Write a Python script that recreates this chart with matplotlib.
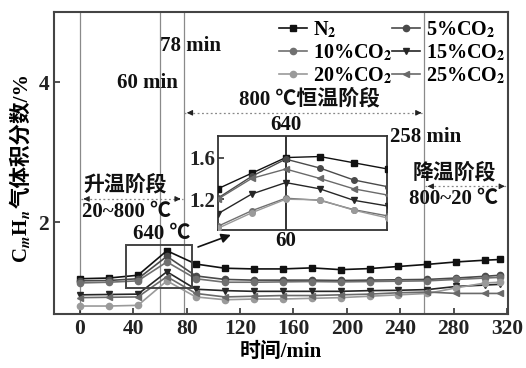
import matplotlib
matplotlib.use("Agg")
import matplotlib.pyplot as plt
from matplotlib.patches import Rectangle

plt.rcParams['font.family'] = ['Liberation Serif', 'Noto Sans CJK SC', 'DejaVu Sans']
plt.rcParams['font.weight'] = 'bold'
plt.rcParams['mathtext.fontset'] = 'stix'

# ---------------- data ----------------
time_min = [0, 21.7, 43.4, 65.1, 86.8, 108.5, 130.2, 151.9, 173.6, 195.3,
            217.0, 238.7, 260.4, 282.1, 303.8, 315.0]
n2    = [1.19, 1.20, 1.24, 1.59, 1.40, 1.34, 1.33, 1.33, 1.345, 1.32, 1.335, 1.365, 1.395, 1.43, 1.455, 1.465]
co2_5 = [1.16, 1.165, 1.19, 1.51, 1.23, 1.18, 1.17, 1.17, 1.17, 1.165, 1.17, 1.175, 1.18, 1.20, 1.225, 1.24]
co2_10 = [1.13, 1.14, 1.16, 1.43, 1.19, 1.14, 1.14, 1.145, 1.15, 1.145, 1.15, 1.155, 1.16, 1.18, 1.20, 1.21]
co2_15 = [0.96, 0.965, 0.97, 1.29, 1.04, 1.02, 1.01, 1.01, 1.01, 1.01, 1.02, 1.025, 1.035, 1.08, 1.10, 1.11]
co2_20 = [0.80, 0.80, 0.81, 1.16, 0.93, 0.89, 0.90, 0.90, 0.91, 0.92, 0.94, 0.96, 0.98, 1.06, 1.13, 1.14]
co2_25 = [0.92, 0.925, 0.93, 1.22, 0.98, 0.93, 0.94, 0.95, 0.95, 0.96, 0.97, 0.99, 1.00, 0.98, 0.98, 0.98]

# inset (zoomed view) values
inset_time = [21.7, 43.4, 65.1, 86.8, 108.5, 130.2]
inset_n2 = [1.30, 1.45, 1.60, 1.61, 1.55, 1.49]
inset_5 = [1.21, 1.42, 1.585, 1.50, 1.385, 1.32]
inset_10 = [0.94, 1.09, 1.21, 1.19, 1.10, 1.04]
inset_15 = [1.06, 1.25, 1.36, 1.30, 1.19, 1.135]
inset_20 = [0.92, 1.07, 1.20, 1.195, 1.095, 1.02]
inset_25 = [1.20, 1.40, 1.49, 1.40, 1.30, 1.24]

labels = ['N$_2$', '5%CO$_2$', '10%CO$_2$', '15%CO$_2$', '20%CO$_2$', '25%CO$_2$']
x_ticks = [0, 40, 80, 120, 160, 200, 240, 280, 320]
y_ticks = [2, 4]
event_times = [0, 60, 78, 258]

# ---------------- style ----------------
colors = ['#111111', '#4a4a4a', '#707070', '#262626', '#9a9a9a', '#6a6a6a']
markers = ['s', 'o', 'o', 'v', 'o', '<']
series = [n2, co2_5, co2_10, co2_15, co2_20, co2_25]
inset_series = [inset_n2, inset_5, inset_10, inset_15, inset_20, inset_25]

fig = plt.figure(figsize=(5.26, 3.68), dpi=100)
ax = fig.add_axes([0.1027, 0.1467, 0.8631, 0.8207])

for t in event_times:
    ax.axvline(t, color='#8a8a8a', lw=0.9, zorder=1)

handles = []
for ys, c, m, lab in zip(series, colors, markers, labels):
    h, = ax.plot(time_min, ys, color=c, marker=m, ms=4.5, lw=1.2, label=lab, zorder=3)
    handles.append(h)

ax.set_xlim(-19.5, 320.8)
ax.set_ylim(0.686, 5.0)
ax.set_xticks(x_ticks)
ax.set_yticks(y_ticks)
ax.tick_params(direction='in', length=4, width=1.1, labelsize=15.5, colors='#222222')
for lab in ax.get_xticklabels() + ax.get_yticklabels():
    lab.set_fontweight('bold')
for s in ax.spines.values():
    s.set_linewidth(1.5)
    s.set_color('#444444')

ax.set_xlabel('时间/min', fontsize=15, fontweight='bold', labelpad=2)

# y label: mathtext part + CJK part placed consecutively
fig.canvas.draw()
renderer = fig.canvas.get_renderer()
ylab_x = 27 / 526
ylab_y0 = 1 - 263 / 368
t1 = fig.text(ylab_x, ylab_y0, 'C$_m$H$_n$', rotation=90, rotation_mode='anchor',
              ha='left', va='baseline', fontsize=15, fontweight='bold')
bb = t1.get_window_extent(renderer=renderer)
h1 = bb.height / fig.bbox.height
fig.text(ylab_x, ylab_y0 + h1 + 0.003, '气体积分数/%', rotation=90, rotation_mode='anchor',
         ha='left', va='baseline', fontsize=15.5, fontweight='bold')

# legend (row order N2,5 / 10,15 / 20,25)
order = [0, 2, 4, 1, 3, 5]
ax.legend([handles[i] for i in order], [labels[i] for i in order], ncol=2,
          loc='upper right', bbox_to_anchor=(1.022, 1.015), frameon=False,
          handlelength=1.4, handletextpad=0.3, columnspacing=0.0,
          labelspacing=0.12, borderaxespad=0.2, prop={'weight': 'bold', 'size': 14.5})

# zoom box and arrow
ax.add_patch(Rectangle((34.5, 1.053), 49.2, 0.623, fill=False, ec='#444444', lw=1.4, zorder=4))
ax.annotate('', xy=(115, 1.83), xytext=(86.5, 1.63),
            arrowprops=dict(arrowstyle='-|>', color='#111111', lw=1.2, mutation_scale=14))

# text annotations
tk = dict(fontsize=15, fontweight='bold', color='#111111')
ax.text(60, 4.51, '78 min', ha='left', va='center', **tk)
ax.text(50.5, 3.99, '60 min', ha='center', va='center', **tk)
ax.text(172, 3.76, '800 ℃恒温阶段', ha='center', va='center', **tk)
ax.text(232.5, 3.22, '258 min', ha='left', va='center', **tk)
ax.text(280.5, 2.70, '降温阶段', ha='center', va='center', **tk)
ax.text(280, 2.33, '800~20 ℃', ha='center', va='center', **tk)
ax.text(34, 2.53, '升温阶段', ha='center', va='center', **tk)
ax.text(35, 2.14, '20~800 ℃', ha='center', va='center', **tk)
ax.text(61, 1.83, '640 ℃', ha='center', va='center', **tk)

def dotted_arrow(x0, x1, y):
    ax.plot([x0, x1], [y, y], ls=(0, (1.5, 2)), color='#888888', lw=0.9, zorder=2)
    ax.annotate('', xy=(x0, y), xytext=(x0 + 6, y),
                arrowprops=dict(arrowstyle='-|>', color='#222222', lw=0.8, mutation_scale=8))
    ax.annotate('', xy=(x1, y), xytext=(x1 - 6, y),
                arrowprops=dict(arrowstyle='-|>', color='#222222', lw=0.8, mutation_scale=8))

dotted_arrow(78, 258, 3.56)
dotted_arrow(0.5, 77.5, 2.33)
dotted_arrow(258.5, 320.5, 2.51)

# inset
axi = fig.add_axes([0.4139, 0.375, 0.3213, 0.2563])
for ys, c, m in zip(inset_series, colors, markers):
    axi.plot(inset_time, ys, color=c, marker=m, ms=4, lw=1.0, zorder=3)
axi.axvline(65.1, color='#222222', lw=1.3, zorder=2)
axi.set_xlim(21.7, 129.5)
axi.set_ylim(0.905, 1.81)
axi.set_yticks([1.2, 1.6])
axi.set_yticklabels(['1.2', '1.6'])
axi.set_xticks([])
axi.tick_params(direction='in', length=4, width=1.1, labelsize=15, colors='#222222', pad=2)
for lab in axi.get_yticklabels():
    lab.set_fontweight('bold')
for s in axi.spines.values():
    s.set_linewidth(1.3)
    s.set_color('#333333')
axi.text(65.1, 1.815, '640', ha='center', va='bottom', **tk)
axi.text(65.1, 0.895, '60', ha='center', va='top', **tk)

fig.savefig('out.png', dpi=100)
